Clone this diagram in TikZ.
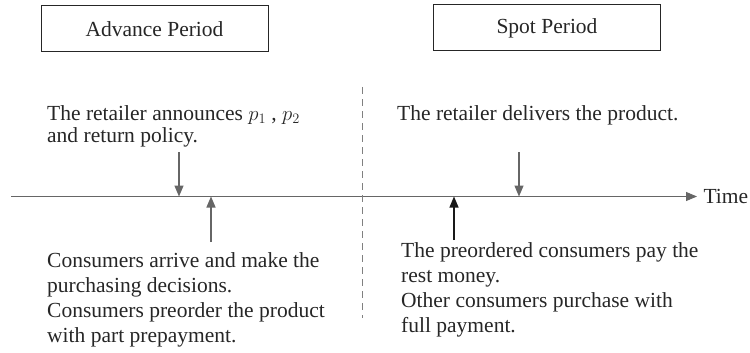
\documentclass[tikz,border=0pt]{standalone}
\usepackage{fontspec}
\setmainfont{Liberation Serif}
\usetikzlibrary{arrows.meta}

\begin{document}
\begin{tikzpicture}[x=1pt,y=-1pt,
  period/.style={draw=black!85,line width=1pt,minimum width=227pt,minimum height=46pt,
    font=\fontsize{21.5}{24}\selectfont,text=black!85},
  event/.style={align=left,inner sep=0pt,font=\fontsize{21.5}{25}\selectfont,text=black!85},
  tick/.style={draw=black!60,line width=1.3pt,-{Triangle[length=11pt,width=9pt]}}]
\useasboundingbox (0,0) rectangle (750,353);

% the two periods
\node[period] (adv) at (154.5,29) {Advance Period};
\node[period] (spot) at (547,28) {Spot Period};

% time axis and the split between periods
\coordinate (t0) at (11,196.5);
\coordinate (t1) at (697,196.5);
\draw[tick,line width=1pt] (t0) -- (t1) node[right,inner sep=6pt,font=\fontsize{21.5}{24}\selectfont,text=black!85] (time) {Time};
\coordinate (s0) at (362.5,87);
\coordinate (s1) at (362.5,318);
\draw[black!50,line width=1pt,dash pattern=on 7pt off 5pt] (s0) -- (s1);

% events (anchored at the baseline of the last line)
\node[event,anchor=base west,font=\fontsize{21.5}{22.5}\selectfont] (announce) at (47,142.5) {The retailer announces $p_1$ , $p_2$\\and return policy.};
\node[event,anchor=base west] (deliver) at (397,121) {The retailer delivers the product.};
\node[event,anchor=base west] (arrive) at (47,342) {Consumers arrive and make the\\purchasing decisions.\\Consumers preorder the product\\with part prepayment.};
\node[event,anchor=base west] (pay) at (401,332) {The preordered consumers pay the\\rest money.\\Other consumers purchase with\\full payment.};

% arrows onto the axis
\coordinate (a0) at (179,152); \coordinate (a1) at (179,196.5);
\coordinate (b0) at (211,242); \coordinate (b1) at (211,196.5);
\coordinate (c0) at (454,240); \coordinate (c1) at (454,196.5);
\coordinate (d0) at (519,152); \coordinate (d1) at (519,196.5);
\draw[tick] (a0) -- (a1);
\draw[tick] (b0) -- (b1);
\draw[tick,draw=black!90] (c0) -- (c1);
\draw[tick] (d0) -- (d1);
\end{tikzpicture}
\end{document}
